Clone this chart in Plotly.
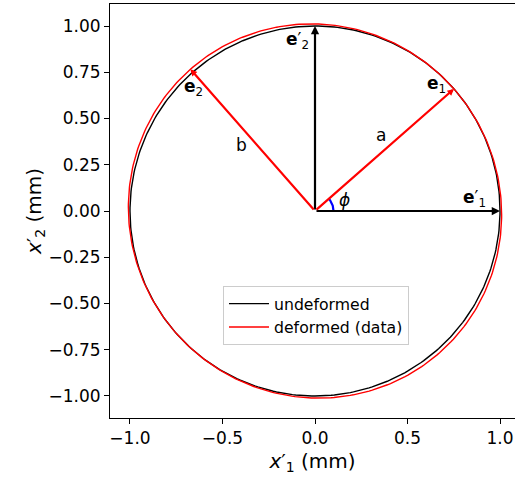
import numpy as np
import plotly.graph_objects as go

# ---- data ----
r_undeformed = 1.0          # mm, undeformed circle radius
a_semi = 1.00               # mm, semi-axis along e1
b_semi = 1.02               # mm, semi-axis along e2
phi_deg = 41.3              # orientation of e1 (deg)
x_ticks = [-1.0, -0.5, 0.0, 0.5, 1.0]
x_tick_labels = ["\u22121.0", "\u22120.5", "0.0", "0.5", "1.0"]
y_ticks = [-1.0, -0.75, -0.5, -0.25, 0.0, 0.25, 0.5, 0.75, 1.0]
y_tick_labels = ["\u22121.00", "\u22120.75", "\u22120.50", "\u22120.25", "0.00", "0.25", "0.50", "0.75", "1.00"]

phi = np.deg2rad(phi_deg)
t = np.linspace(0, 2 * np.pi, 361)
cx = r_undeformed * np.cos(t)
cy = r_undeformed * np.sin(t)
ex = a_semi * np.cos(t) * np.cos(phi) - b_semi * np.sin(t) * np.sin(phi)
ey = a_semi * np.cos(t) * np.sin(phi) + b_semi * np.sin(t) * np.cos(phi)
arc_r = 0.1
ta = np.linspace(0, phi, 40)

FONT = "DejaVu Sans"
fig = go.Figure()
fig.add_trace(go.Scatter(x=cx, y=cy, mode="lines", line=dict(color="black", width=1.4),
                         name="undeformed"))
fig.add_trace(go.Scatter(x=ex, y=ey, mode="lines", line=dict(color="red", width=1.4),
                         name="deformed (data)"))
fig.add_trace(go.Scatter(x=arc_r * np.cos(ta), y=arc_r * np.sin(ta), mode="lines",
                         line=dict(color="blue", width=2.2), showlegend=False))

def arrow(x1, y1, color, width=2.2, size=0.75):
    fig.add_annotation(x=x1, y=y1, ax=0, ay=0, xref="x", yref="y", axref="x", ayref="y",
                       showarrow=True, arrowhead=2, arrowsize=size, arrowwidth=width,
                       arrowcolor=color, standoff=0, text="")

arrow(r_undeformed, 0, "black")
arrow(0, r_undeformed, "black")
arrow(a_semi * np.cos(phi), a_semi * np.sin(phi), "red", size=0.6)
arrow(-b_semi * np.sin(phi), b_semi * np.cos(phi), "red", size=0.6)

def label(x, y, text):
    fig.add_annotation(x=x, y=y, xref="x", yref="y", text=text, showarrow=False,
                       font=dict(family=FONT, size=17, color="black"))

label(0.862, 0.07, "<b>e</b>\u2032<sub>1</sub>")
label(-0.092, 0.92, "<b>e</b>\u2032<sub>2</sub>")
label(0.659, 0.684, "<b>e</b><sub>1</sub>")
label(-0.659, 0.670, "<b>e</b><sub>2</sub>")
label(0.359, 0.411, "a")
label(-0.397, 0.357, "b")
label(0.159, 0.057, "<i>\u03d5</i>")

fig.update_layout(
    width=515, height=477,
    margin=dict(l=110, r=0, t=4, b=59),
    plot_bgcolor="white", paper_bgcolor="white",
    font=dict(family=FONT, size=17, color="black"),
    showlegend=True,
    legend=dict(x=0.279, y=0.319, xanchor="left", yanchor="top",
                bgcolor="rgba(255,255,255,0.8)", bordercolor="#cccccc", borderwidth=1,
                itemwidth=40, tracegroupgap=0,
                font=dict(family=FONT, size=15.7)),
    xaxis=dict(range=[-1.108, 1.081], tickvals=x_ticks, ticktext=x_tick_labels,
               showgrid=False, zeroline=False, showline=True, linecolor="black", linewidth=1.1,
               mirror=True, ticks="outside", ticklen=5, tickwidth=1.1, tickcolor="black",
               title=dict(text="<i>x</i>\u2032<sub>1</sub> (mm)", standoff=6)),
    yaxis=dict(range=[-1.119, 1.119], tickvals=y_ticks, ticktext=y_tick_labels,
               showgrid=False, zeroline=False, showline=True, linecolor="black", linewidth=1.1,
               ticks="outside", ticklen=5, tickwidth=1.1, tickcolor="black",
               title=dict(text="<i>x</i>\u2032<sub>2</sub> (mm)", standoff=0)),
)
fig.write_html("out.html")
